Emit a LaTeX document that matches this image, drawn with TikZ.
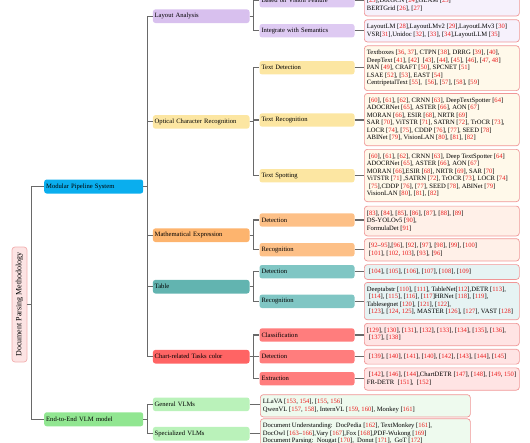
\documentclass[tikz,border=0pt]{standalone}
\usepackage{fontspec}
\setmainfont{Liberation Serif}
\usepackage{graphicx}
\definecolor{citered}{RGB}{235,30,30}
\definecolor{linkgray}{RGB}{105,105,105}
\definecolor{leafborder}{RGB}{240,150,150}
\definecolor{rootfill}{RGB}{252,228,228}
\definecolor{rootborder}{RGB}{242,175,175}
\definecolor{cBlue}{RGB}{10,174,238}
\definecolor{cGreen}{RGB}{145,230,145}
\definecolor{cLay}{RGB}{216,192,238}
\definecolor{cLayB}{RGB}{222,202,242}
\definecolor{cOcr}{RGB}{252,230,162}
\definecolor{cMath}{RGB}{253,180,110}
\definecolor{cMathB}{RGB}{253,192,135}
\definecolor{cTab}{RGB}{98,180,176}
\definecolor{cTabB}{RGB}{128,198,196}
\definecolor{cChart}{RGB}{255,100,100}
\definecolor{cChartB}{RGB}{255,125,125}
\definecolor{cVlm}{RGB}{186,242,186}
\definecolor{lLay}{RGB}{246,241,252}
\definecolor{lOcr}{RGB}{255,249,234}
\definecolor{lMath}{RGB}{255,240,232}
\definecolor{lTab}{RGB}{230,243,243}
\definecolor{lChart}{RGB}{255,228,228}
\definecolor{lVlm}{RGB}{238,250,238}
\newcommand\rn[1]{\textcolor{citered}{#1}}
\newcommand\leaftext[2][150pt]{\makebox[#1][l]{\begin{tabular}{@{}l@{}}#2\end{tabular}}}
\newcommand\ind{\hspace*{2pt}}
\begin{document}
\begin{tikzpicture}[x=1pt,y=-1pt,
  every node/.style={font=\fontsize{6.6}{7.5}\selectfont, text=black},
  cbox/.style={rounded corners=2.5pt, anchor=west, align=left, inner ysep=0pt},
  lvone/.style={cbox, fill=#1, text width=95pt, inner xsep=2pt, minimum height=14pt},
  lvtwo/.style={cbox, fill=#1, text width=93pt, inner xsep=1.8pt, minimum height=13.6pt},
  lvthree/.style={cbox, fill=#1, text width=91pt, inner xsep=2pt, minimum height=13.4pt},
  leaf/.style={rounded corners=3pt, anchor=west, draw=leafborder, line width=0.7pt, fill=#1, inner xsep=2.5pt, inner ysep=3.65pt},
  link/.style={draw=linkgray, line width=1.1pt},
]
\useasboundingbox (0,0) rectangle (530,442);
\clip (0,0) rectangle (530,442);

% root
\node[draw=rootborder, line width=0.7pt, fill=rootfill, rounded corners=3pt, minimum width=15pt, minimum height=115pt, inner sep=0pt, font=\fontsize{8}{9}\selectfont] (root) at (19.5,304.5) {\rotatebox{90}{Document Parsing Methodology}};

% level 1
\node[lvone=cBlue] (mps) at (44,186.5) {Modular Pipeline System};
\node[lvone=cGreen] (e2e) at (44,419.3) {End-to-End VLM model};

% level 2
\node[lvtwo=cLay] (lay) at (152.7,16.2) {Layout Analysis};
\node[lvtwo=cOcr] (ocr) at (152.7,121.9) {Optical Character Recognition};
\node[lvtwo=cMath] (math) at (152.7,235.2) {Mathematical Expression};
\node[lvtwo=cTab] (tab) at (152.7,286.7) {Table};
\node[lvtwo=cChart] (chart) at (152.7,356.7) {Chart-related Tasks color};
\node[lvtwo=cVlm] (gen) at (152.7,404.3) {General VLMs};
\node[lvtwo=cVlm] (spec) at (152.7,433.7) {Specialized VLMs};

% level 3
\node[lvthree=cLayB] (vis) at (259.3,0.7) {Based on Vision Feature};
\node[lvthree=cLayB] (sem) at (259.3,30.7) {Integrate with Semantics};
\node[lvthree=cOcr] (tdet) at (259.3,67.7) {Text Detection};
\node[lvthree=cOcr] (trec) at (259.3,120) {Text Recognition};
\node[lvthree=cOcr] (tspot) at (259.3,175.7) {Text Spotting};
\node[lvthree=cMathB] (mdet) at (259.3,220) {Detection};
\node[lvthree=cMathB] (mrec) at (259.3,249.7) {Recognition};
\node[lvthree=cTabB] (tbdet) at (259.3,271.7) {Detection};
\node[lvthree=cTabB] (tbrec) at (259.3,301.3) {Recognition};
\node[lvthree=cChartB] (ccls) at (259.3,335) {Classification};
\node[lvthree=cChartB] (cdet) at (259.3,356.7) {Detection};
\node[lvthree=cChartB] (cext) at (259.3,378.7) {Extraction};

% leaves
\node[leaf=lLay] (visL) at (364,1.1) {\leaftext{\mbox{}\\{}[\rn{23}],DocGCN [\rn{24}],GLAM [\rn{25}]\\BERTGrid [\rn{26}], [\rn{27}]}};
\node[leaf=lLay] (semL) at (364,30.8) {\leaftext{LayoutLM [\rn{28}],LayoutLMv2 [\rn{29}],LayoutLMv3 [\rn{30}]\\VSR[\rn{31}],Unidoc [\rn{32}], [\rn{33}], [\rn{34}],LayoutLLM [\rn{35}]}};
\node[leaf=lOcr] (tdetL) at (364,68.2) {\leaftext{Textboxes [\rn{36}, \rn{37}], CTPN [\rn{38}], DRRG [\rn{39}], [\rn{40}],\\DeepText [\rn{41}], [\rn{42}]\ \ [\rn{43}], [\rn{44}], [\rn{45}], [\rn{46}], [\rn{47}, \rn{48}]\\PAN [\rn{49}], CRAFT [\rn{50}], SPCNET [\rn{51}]\\LSAE [\rn{52}], [\rn{53}], EAST [\rn{54}]\\CentripetalText [\rn{55}],\ \ [\rn{56}], [\rn{57}], [\rn{58}], [\rn{59}]}};
\node[leaf=lOcr] (trecL) at (364,119.6) {\leaftext{\ind[\rn{60}], [\rn{61}], [\rn{62}], CRNN [\rn{63}], DeepTextSpotter [\rn{64}]\\ADOCRNet [\rn{65}], ASTER [\rn{66}], AON [\rn{67}]\\MORAN [\rn{66}], ESIR [\rn{68}], NRTR [\rn{69}]\\SAR [\rn{70}], ViTSTR [\rn{71}], SATRN [\rn{72}], TrOCR [\rn{73}],\\LOCR [\rn{74}], [\rn{75}], CDDP [\rn{76}], [\rn{77}], SEED [\rn{78}]\\ABINet [\rn{79}], VisionLAN [\rn{80}], [\rn{81}], [\rn{82}]}};
\node[leaf=lOcr] (tspotL) at (364,175.5) {\leaftext{\ind[\rn{60}], [\rn{61}], [\rn{62}], CRNN [\rn{63}], Deep TextSpotter [\rn{64}]\\ADOCRNet [\rn{65}], ASTER [\rn{66}], AON [\rn{67}]\\MORAN [\rn{66}],ESIR [\rn{68}], NRTR [\rn{69}], SAR [\rn{70}]\\ViTSTR [\rn{71}] ,SATRN [\rn{72}], TrOCR [\rn{73}], LOCR [\rn{74}]\\\ind[\rn{75}],CDDP [\rn{76}], [\rn{77}], SEED [\rn{78}], ABINet [\rn{79}]\\VisionLAN [\rn{80}], [\rn{81}], [\rn{82}]}};
\node[leaf=lMath] (mdetL) at (364,221) {\leaftext{[\rn{83}], [\rn{84}], [\rn{85}], [\rn{86}], [\rn{87}], [\rn{88}], [\rn{89}]\\DS-YOLOv5 [\rn{90}],\\FormulaDet [\rn{91}]}};
\node[leaf=lMath] (mrecL) at (364,249.8) {\leaftext{\ind[\rn{92}--\rn{95}],[\rn{96}], [\rn{92}], [\rn{97}], [\rn{98}], [\rn{99}], [\rn{100}]\\\ind[\rn{101}], [\rn{102}, \rn{103}], [\rn{93}], [\rn{96}]}};
\node[leaf=lTab] (tbdetL) at (364,272) {\leaftext{\ind[\rn{104}], [\rn{105}], [\rn{106}], [\rn{107}], [\rn{108}], [\rn{109}]}};
\node[leaf=lTab] (tbrecL) at (364,301.1) {\leaftext{Deeptabstr [\rn{110}], [\rn{111}], TableNet[\rn{112}],DETR [\rn{113}],\\\ind[\rn{114}], [\rn{115}], [\rn{116}], [\rn{117}]HRNet [\rn{118}], [\rn{119}],\\Tablesegnet [\rn{120}], [\rn{121}], [\rn{122}],\\\ind[\rn{123}], [\rn{124}, \rn{125}], MASTER [\rn{126}], [\rn{127}], VAST [\rn{128}]}};
\node[leaf=lChart] (cclsL) at (364,334.5) {\leaftext{[\rn{129}], [\rn{130}], [\rn{131}], [\rn{132}], [\rn{133}], [\rn{134}], [\rn{135}], [\rn{136}],\\\ind[\rn{137}], [\rn{138}]}};
\node[leaf=lChart] (cdetL) at (364,356.7) {\leaftext{\ind[\rn{139}], [\rn{140}], [\rn{141}], [\rn{140}], [\rn{142}], [\rn{143}], [\rn{144}], [\rn{145}]}};
\node[leaf=lChart] (cextL) at (364,379) {\leaftext{\ind[\rn{142}], [\rn{146}], [\rn{144}],ChartDETR [\rn{147}], [\rn{148}], [\rn{149}, \rn{150}]\\FR-DETR\ \ [\rn{151}],\ \ [\rn{152}]}};
\node[leaf=lVlm] (genL) at (260,405.8) {\leaftext[205pt]{LLaVA [\rn{153}, \rn{154}], [\rn{155}, \rn{156}]\\QwenVL [\rn{157}, \rn{158}], InternVL [\rn{159}, \rn{160}], Monkey [\rn{161}]}};
\node[leaf=lVlm] (specL) at (260,433.7) {\leaftext[205pt]{Document Understanding:\ \ DocPedia [\rn{162}], TextMonkey [\rn{161}],\\DocOwl [\rn{163}--\rn{166}],Vary [\rn{167}],Fox [\rn{168}],PDF-Wukong [\rn{169}]\\Document Parsing:\ \ Nougat [\rn{170}],\ \ Donut [\rn{171}],\ \ GoT [\rn{172}]}};

% connectors
\foreach \ch in {mps,e2e} \draw[link] (root.east) -- ++(4,0) |- (\ch.west);
\foreach \ch in {lay,ocr,math,tab,chart} \draw[link] (mps.east) -- ++(4,0) |- (\ch.west);
\foreach \ch in {gen,spec} \draw[link] (e2e.east) -- ++(4,0) |- (\ch.west);
\foreach \ch in {vis,sem} \draw[link] (lay.east) -- ++(4,0) |- (\ch.west);
\foreach \ch in {tdet,trec,tspot} \draw[link] (ocr.east) -- ++(4,0) |- (\ch.west);
\foreach \ch in {mdet,mrec} \draw[link] (math.east) -- ++(4,0) |- (\ch.west);
\foreach \ch in {tbdet,tbrec} \draw[link] (tab.east) -- ++(4,0) |- (\ch.west);
\foreach \ch in {ccls,cdet,cext} \draw[link] (chart.east) -- ++(4,0) |- (\ch.west);
\foreach \ch in {vis,sem,tdet,trec,tspot,mdet,mrec,tbdet,tbrec,ccls,cdet,cext,gen,spec}
  \draw[link] (\ch.east) -- (\ch.east -| \ch L.west);
\end{tikzpicture}
\end{document}
